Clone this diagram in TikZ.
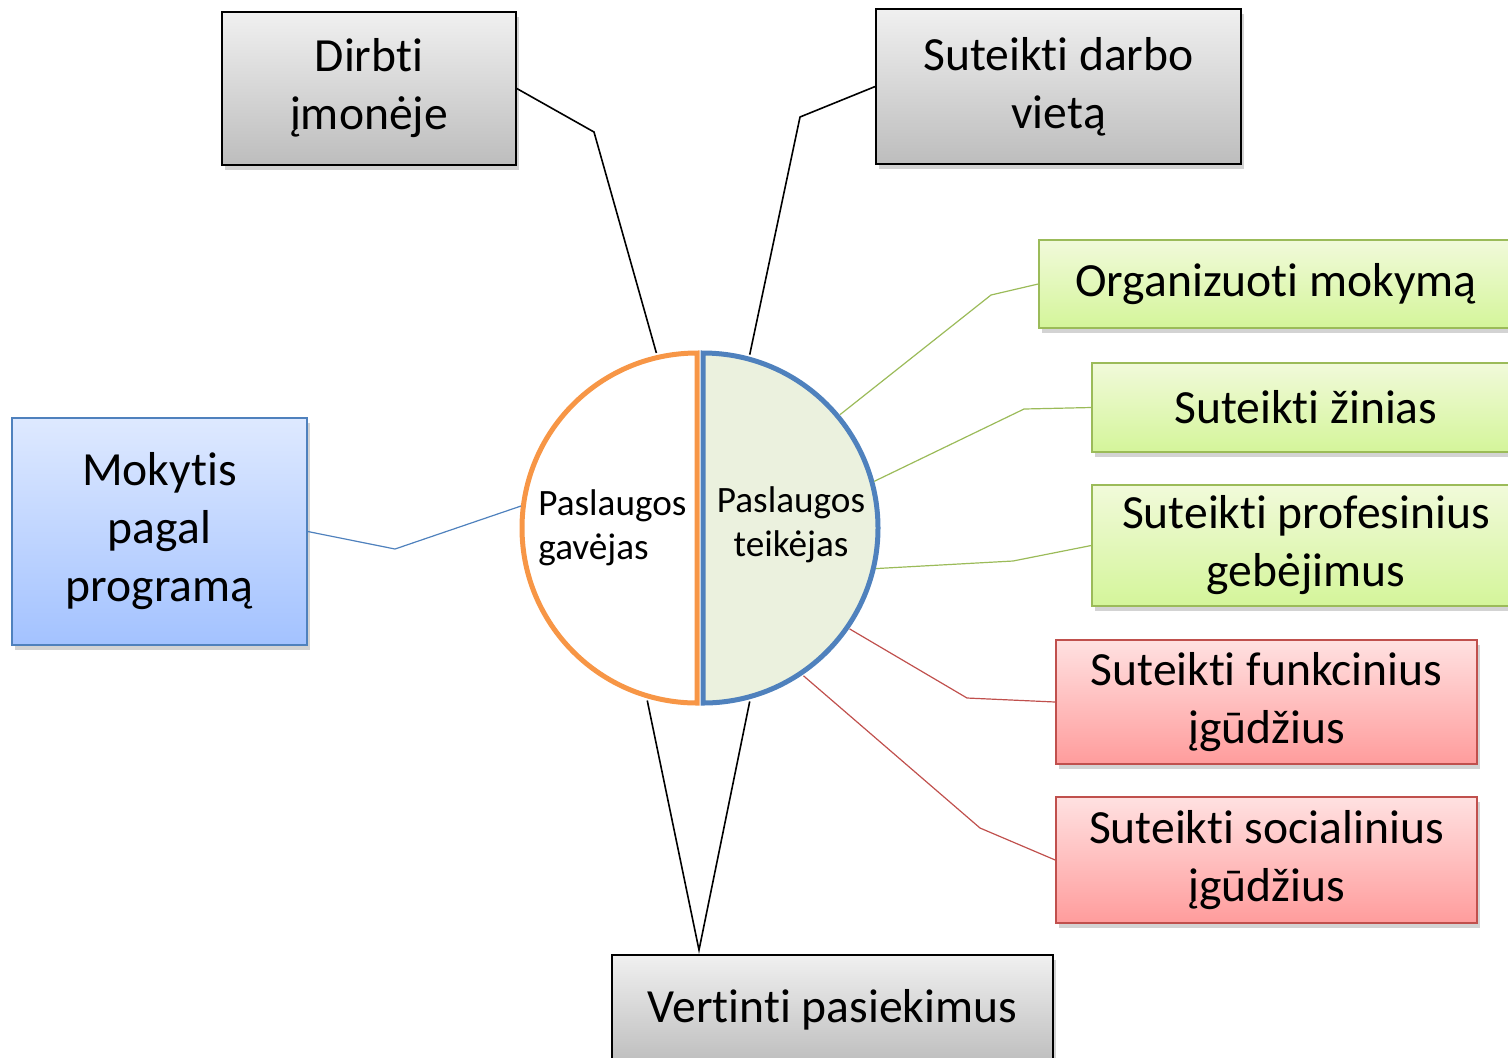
\documentclass[tikz,border=0pt]{standalone}
\usepackage{fontspec}
\setmainfont{Carlito}[Ligatures=NoCommon]
\usetikzlibrary{shadows}

\definecolor{pilkavirsus}{HTML}{F0F0F0}
\definecolor{pilkaapacia}{HTML}{BDBDBD}
\definecolor{melynavirsus}{HTML}{DEE9FF}
\definecolor{melynaapacia}{HTML}{A3C2FF}
\definecolor{zaliavirsus}{HTML}{F1FADA}
\definecolor{zaliaapacia}{HTML}{D4F59A}
\definecolor{raudonavirsus}{HTML}{FFE1E1}
\definecolor{raudonaapacia}{HTML}{FF9C9C}
\definecolor{melyna}{HTML}{4F81BD}
\definecolor{zalia}{HTML}{9BBB59}
\definecolor{raudona}{HTML}{C0504D}
\definecolor{oranzine}{HTML}{F79646}
\definecolor{ratofonas}{HTML}{EBF1DE}

\tikzset{
  dezute/.style={draw, line width=0.8pt, align=center, inner sep=2pt,
    font=\fontsize{23.8}{29}\selectfont,
    drop shadow={shadow xshift=1.5pt, shadow yshift=-2.5pt, opacity=0.35}},
  pilka/.style={dezute, draw=black, top color=pilkavirsus, bottom color=pilkaapacia},
  melynadez/.style={dezute, draw=melyna, top color=melynavirsus, bottom color=melynaapacia},
  zaliadez/.style={dezute, draw=zalia, top color=zaliavirsus, bottom color=zaliaapacia},
  raudonadez/.style={dezute, draw=raudona, top color=raudonavirsus, bottom color=raudonaapacia},
  jungtis/.style={line width=0.8pt, black},
  plona/.style={line width=0.6pt},
  vidus/.style={font=\fontsize{18.6}{22}\selectfont, inner sep=0pt}
}

\begin{document}
\begin{tikzpicture}[x=0.5pt,y=-0.5pt]
  %puslapio ribos
  	\useasboundingbox (0,0) rectangle (1508,1057);

  %dezutes virsuje ir apacioje
  	\node[pilka, minimum width=147pt, minimum height=76.5pt] (dirbti) at (369,88.5) {Dirbti\\įmonėje};
  	\node[pilka, minimum width=182.5pt, minimum height=77.5pt] (darbovieta) at (1058.5,86.5) {Suteikti darbo\\vietą};
  	\node[pilka, minimum width=220.5pt, minimum height=55pt] (vertinti) at (832.5,1010) {Vertinti pasiekimus};

  %kairė dezute
  	\node[melynadez, minimum width=147.5pt, minimum height=113.5pt] (mokytis) at (159.5,531.5) {Mokytis\\pagal\\programą};

  %zalios dezutes
  	\node[zaliadez, minimum width=237pt, minimum height=44pt] (organizuoti) at (1276,284) {Organizuoti mokymą};
  	\node[zaliadez, minimum width=214pt, minimum height=44.5pt] (zinias) at (1306,407.5) {Suteikti žinias};
  	\node[zaliadez, minimum width=214pt, minimum height=60.5pt] (profesinius) at (1306,545.5) {Suteikti profesinius\\gebėjimus};

  %raudonos dezutes
  	\node[raudonadez, minimum width=210.5pt, minimum height=62pt] (funkcinius) at (1266.5,702) {Suteikti funkcinius\\įgūdžius};
  	\node[raudonadez, minimum width=210.5pt, minimum height=63pt] (socialinius) at (1266.5,860) {Suteikti socialinius\\įgūdžius};

  %ratas (tik del jungciu galu)
  	\node[circle, minimum size=180pt, inner sep=0pt] (ratas) at (700,528) {};
  	\coordinate (smaigalys) at (699,950);

  %gavėjas ir teikėjas
  	\draw[line width=2.5pt, oranzine, fill=white] (697,353) arc[start angle=-90, end angle=-270, radius=175] -- cycle;
  	\draw[line width=2.5pt, melyna, fill=ratofonas] (703,353) arc[start angle=-90, end angle=90, radius=175] -- cycle;
  	\node[vidus, align=left, anchor=west] (gavejas) at (538,528) {Paslaugos\\gavėjas};
  	\node[vidus, align=center] (teikejas) at (791,525) {Paslaugos\\teikėjas};

  %juodos jungtys
  	\draw[jungtis] (dirbti.east) -- (594,132) -- (ratas.104);
  	\draw[jungtis] (darbovieta.west) -- (800,117) -- (ratas.74);
  	\draw[jungtis] (ratas.-107) -- (smaigalys) -- (ratas.-74);

  %spalvotos jungtys
  	\draw[plona, melyna] (mokytis.east) -- (395,549) -- (ratas.173);
  	\draw[plona, zalia] (organizuoti.west) -- (991,295) -- (ratas.39);
  	\draw[plona, zalia] (zinias.west) -- (1024,409) -- (ratas.15);
  	\draw[plona, zalia] (profesinius.west) -- (1013,561) -- (ratas.-13);
  	\draw[plona, raudona] (funkcinius.west) -- (967,698) -- (ratas.-34);
  	\draw[plona, raudona] (socialinius.west) -- (980,828) -- (ratas.-55);
\end{tikzpicture}
\end{document}
